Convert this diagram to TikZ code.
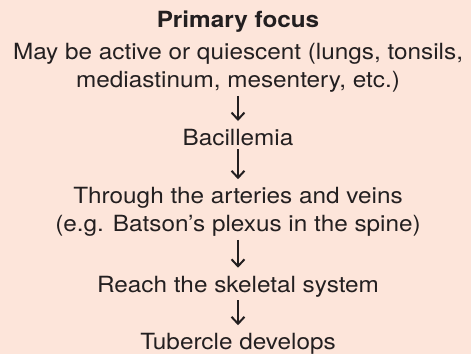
\documentclass[tikz,border=0pt]{standalone}
\usepackage{fontspec}
\setmainfont[FakeStretch=1.09]{TeX Gyre Heros}
\usepackage{xcolor}
\usetikzlibrary{arrows.meta}

\definecolor{peach}{HTML}{FDE5DA}
\definecolor{ink}{HTML}{231F20}

\begin{document}
\begin{tikzpicture}[
  x=1pt, y=-1pt,
  line/.style={text=ink, inner sep=0pt, align=center,
    font=\fontsize{22.3}{28}\selectfont},
  title/.style={line, font=\fontsize{22.3}{28}\selectfont\bfseries},
  arrow/.style={-{Straight Barb[length=7pt,width=13pt]}, draw=ink,
    line width=2pt, shorten <=3pt, shorten >=8pt},
]

\fill[peach] (0,0) rectangle (471,354);
\useasboundingbox (0,0) rectangle (471,354);

\node[title] (focus) at (238,22) {Primary focus};
\node[line] (quiet) at (238,68) {May be active or quiescent (lungs, tonsils,\\mediastinum, mesentery, etc.)};
\node[line] (bacil) at (238,137.5) {Bacillemia};
\node[line] (route) at (238,212) {Through the arteries and veins\\(e.g. Batson’s plexus in the spine)};
\node[line] (reach) at (238,286.5) {Reach the skeletal system};
\node[line] (tuber) at (238,344) {Tubercle develops};

\draw[arrow] (quiet) -- (bacil);
\draw[arrow] (bacil) -- (route);
\draw[arrow] (route) -- (reach);
\draw[arrow] (reach) -- (tuber);

\end{tikzpicture}
\end{document}
